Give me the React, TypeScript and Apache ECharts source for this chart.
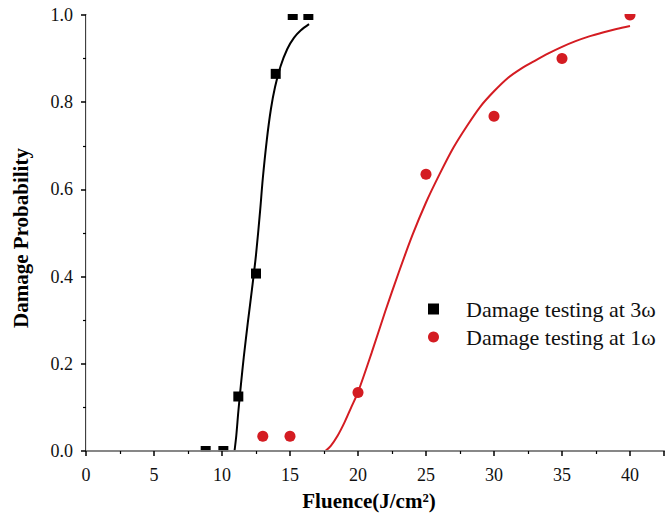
import React, { useEffect, useRef } from "react";
import * as echarts from "echarts";

const xTicks = [0, 5, 10, 15, 20, 25, 30, 35, 40];
const yTicks = [0, 0.2, 0.4, 0.6, 0.8, 1.0];

const series3wName = "Damage testing at 3\u03c9";
const series1wName = "Damage testing at 1\u03c9";

const points3w: [number, number][] = [
  [8.8, 0], [10.1, 0], [11.2, 0.125], [12.5, 0.407], [13.95, 0.865], [15.2, 1.0], [16.35, 1.0],
];
const points1w: [number, number][] = [
  [13, 0.034], [15, 0.034], [20, 0.134], [25, 0.635], [30, 0.768], [35, 0.9], [40, 1.0],
];

const fit3w: [number, number][] = [
  [10.92, 0], [11.05, 0.035], [11.2, 0.09], [11.4, 0.155], [11.6, 0.215], [11.9, 0.295],
  [12.2, 0.37], [12.5, 0.45], [12.8, 0.55], [13.0, 0.625], [13.3, 0.715], [13.6, 0.785],
  [13.9, 0.835], [14.3, 0.882], [14.8, 0.922], [15.3, 0.948], [15.8, 0.965], [16.4, 0.979],
];
const fit1w: [number, number][] = [
  [17.6, 0], [18.0, 0.012], [18.5, 0.035], [19.0, 0.065], [19.5, 0.1], [20.0, 0.135],
  [21.0, 0.225], [22.0, 0.32], [23.0, 0.41], [24.0, 0.495], [25.0, 0.57], [26.0, 0.635],
  [27.0, 0.695], [28.0, 0.745], [29.0, 0.79], [30.0, 0.825], [31.0, 0.855], [32.0, 0.877],
  [33.0, 0.895], [34.0, 0.912], [35.0, 0.927], [36.0, 0.94], [37.0, 0.951], [38.0, 0.96],
  [39.0, 0.968], [40.0, 0.975],
];

const SERIF = "Liberation Serif, Times New Roman, serif";
const RED = "#d41c22";

export default function App() {
  const ref = useRef<HTMLDivElement>(null);
  useEffect(() => {
    if (!ref.current) return;
    const chart = echarts.init(ref.current, undefined, { renderer: "svg" });
    const labelStyle = { color: "#111", fontFamily: SERIF, fontSize: 18 };
    chart.setOption({
      animation: false,
      backgroundColor: "#fff",
      textStyle: { fontFamily: SERIF, color: "#000" },
      grid: { left: 86, top: 15, right: 1, bottom: 71, containLabel: false },
      xAxis: [
        {
          type: "value",
          position: "bottom",
          z: 10,
          min: 0,
          max: 42.5,
          interval: 5,
          axisLine: { show: true, lineStyle: { color: "#000", width: 1.5 } },
          axisTick: { show: true, inside: false, length: 5, lineStyle: { color: "#000", width: 1.5 } },
          minorTick: { show: true, splitNumber: 2, length: 3, lineStyle: { color: "#000", width: 1.2 } },
          splitLine: { show: false },
          axisLabel: {
            ...labelStyle,
            margin: 15,
            formatter: (v: number) => (xTicks.includes(v) ? String(v) : ""),
          },
        },
        {
          type: "value",
          position: "top",
          z: 10,
          min: 0,
          max: 42.5,
          axisLine: { show: true, lineStyle: { color: "#a0a0a0", width: 1.5 } },
          axisTick: { show: false },
          axisLabel: { show: false },
          splitLine: { show: false },
        },
      ],
      yAxis: [
        {
          type: "value",
          position: "left",
          z: 10,
          min: 0,
          max: 1,
          interval: 0.2,
          axisLine: { show: true, lineStyle: { color: "#000", width: 1.5 } },
          axisTick: { show: true, inside: false, length: 5, lineStyle: { color: "#000", width: 1.5 } },
          minorTick: { show: true, splitNumber: 2, length: 3, lineStyle: { color: "#000", width: 1.2 } },
          splitLine: { show: false },
          axisLabel: {
            ...labelStyle,
            margin: 13,
            formatter: (v: number) => (yTicks.some((t) => Math.abs(t - v) < 1e-9) ? v.toFixed(1) : ""),
          },
        },
        {
          type: "value",
          position: "right",
          z: 10,
          min: 0,
          max: 1,
          axisLine: { show: true, lineStyle: { color: "#e4e4e4", width: 1 } },
          axisTick: { show: false },
          axisLabel: { show: false },
          splitLine: { show: false },
        },
      ],
      legend: {
        orient: "vertical",
        left: 423,
        top: 293,
        itemGap: 6,
        itemWidth: 11,
        itemHeight: 11,
        textStyle: { fontFamily: SERIF, fontSize: 22, color: "#111", padding: [0, 0, 0, 22] },
        data: [
          { name: series3wName, icon: "rect", itemStyle: { color: "#000", opacity: 1 } },
          { name: series1wName, icon: "circle", itemStyle: { color: RED, opacity: 1 } },
        ],
      },
      graphic: [
        {
          type: "rect",
          z: 5,
          silent: true,
          shape: { x: 87, y: 0, width: 580, height: 14 },
          style: { fill: "#fff" },
        },
        {
          type: "rect",
          z: 5,
          silent: true,
          shape: { x: 87, y: 452, width: 580, height: 10 },
          style: { fill: "#fff" },
        },
        {
          type: "text",
          x: 369,
          y: 501,
          style: {
            text: "Fluence(J/cm\u00b2)",
            font: `bold 21px ${SERIF}`,
            fill: "#000",
            align: "center",
            verticalAlign: "middle",
          },
        },
        {
          type: "text",
          x: 21,
          y: 238,
          rotation: Math.PI / 2,
          style: {
            text: "Damage Probability",
            font: `bold 21px ${SERIF}`,
            fill: "#000",
            align: "center",
            verticalAlign: "middle",
          },
        },
      ],
      series: [
        {
          name: series3wName + " fit",
          type: "line",
          data: fit3w,
          smooth: 0.3,
          showSymbol: false,
          lineStyle: { color: "#000", width: 2 },
          silent: true,
        },
        {
          name: series1wName + " fit",
          type: "line",
          data: fit1w,
          smooth: 0.3,
          showSymbol: false,
          lineStyle: { color: RED, width: 2 },
          silent: true,
        },
        {
          name: series3wName,
          type: "scatter",
          data: points3w,
          symbol: "rect",
          symbolSize: 10,
          clip: true,
          itemStyle: { color: "#000", opacity: 1 },
        },
        {
          name: series1wName,
          type: "scatter",
          data: points1w,
          symbol: "circle",
          symbolSize: 11,
          clip: true,
          itemStyle: { color: RED, opacity: 1 },
        },
      ],
    });
    return () => chart.dispose();
  }, []);
  return (
    <div
      ref={ref}
      style={{ position: "fixed", left: 0, top: 0, width: 667, height: 522, background: "#fff" }}
    />
  );
}
